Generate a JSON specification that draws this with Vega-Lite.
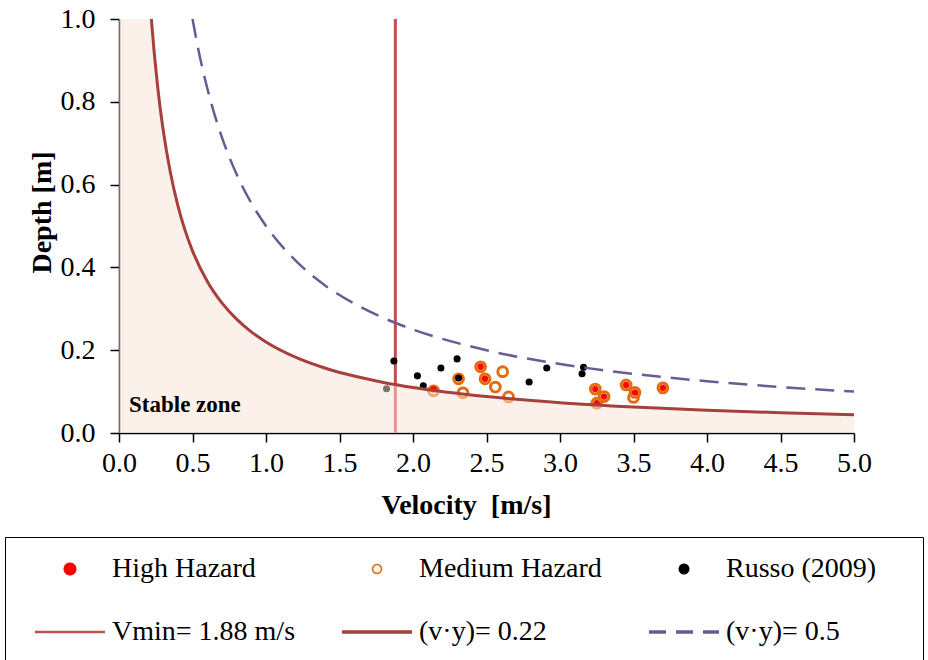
{
  "$schema": "https://vega.github.io/schema/vega-lite/v6.json",
  "width": 735,
  "height": 414,
  "autosize": {"type": "none"},
  "padding": {"left": 119, "top": 19, "right": 74, "bottom": 227},
  "background": "white",
  "config": {
    "view": {"stroke": null},
    "axis": {
      "labelFont": "Liberation Serif", "labelFontSize": 28, "labelColor": "black",
      "titleFont": "Liberation Serif", "titleFontSize": 28, "titleFontWeight": "bold", "titleColor": "black",
      "domainColor": "black", "domainWidth": 1.5, "tickColor": "black", "tickWidth": 1.5, "tickSize": 9,
      "grid": false, "labelFlush": false, "labelOverlap": false
    },
    "legend": {
      "labelFont": "Liberation Serif", "labelFontSize": 28, "labelColor": "black", "labelLimit": 400
    }
  },
  "datasets": {
    "russo": [
      {"v": 1.87, "y": 0.174, "series": "Russo (2009)"},
      {"v": 2.03, "y": 0.138, "series": "Russo (2009)"},
      {"v": 2.07, "y": 0.114, "series": "Russo (2009)"},
      {"v": 2.19, "y": 0.157, "series": "Russo (2009)"},
      {"v": 2.30, "y": 0.179, "series": "Russo (2009)"},
      {"v": 2.31, "y": 0.133, "series": "Russo (2009)"},
      {"v": 2.79, "y": 0.123, "series": "Russo (2009)"},
      {"v": 2.91, "y": 0.157, "series": "Russo (2009)"},
      {"v": 3.16, "y": 0.159, "series": "Russo (2009)"},
      {"v": 3.15, "y": 0.143, "series": "Russo (2009)"},
      {"v": 1.82, "y": 0.107, "series": "Russo (2009)"}
    ],
    "medium": [
      {"v": 2.14, "y": 0.102, "series": "Medium Hazard"},
      {"v": 2.31, "y": 0.131, "series": "Medium Hazard"},
      {"v": 2.34, "y": 0.097, "series": "Medium Hazard"},
      {"v": 2.46, "y": 0.160, "series": "Medium Hazard"},
      {"v": 2.49, "y": 0.131, "series": "Medium Hazard"},
      {"v": 2.56, "y": 0.111, "series": "Medium Hazard"},
      {"v": 2.61, "y": 0.148, "series": "Medium Hazard"},
      {"v": 2.65, "y": 0.087, "series": "Medium Hazard"},
      {"v": 3.24, "y": 0.106, "series": "Medium Hazard"},
      {"v": 3.30, "y": 0.088, "series": "Medium Hazard"},
      {"v": 3.25, "y": 0.072, "series": "Medium Hazard"},
      {"v": 3.45, "y": 0.116, "series": "Medium Hazard"},
      {"v": 3.51, "y": 0.098, "series": "Medium Hazard"},
      {"v": 3.50, "y": 0.086, "series": "Medium Hazard"},
      {"v": 3.70, "y": 0.109, "series": "Medium Hazard"}
    ],
    "high": [
      {"v": 2.14, "y": 0.105, "series": "High Hazard"},
      {"v": 2.46, "y": 0.160, "series": "High Hazard"},
      {"v": 2.49, "y": 0.131, "series": "High Hazard"},
      {"v": 3.24, "y": 0.106, "series": "High Hazard"},
      {"v": 3.30, "y": 0.088, "series": "High Hazard"},
      {"v": 3.25, "y": 0.072, "series": "High Hazard"},
      {"v": 3.45, "y": 0.116, "series": "High Hazard"},
      {"v": 3.51, "y": 0.098, "series": "High Hazard"},
      {"v": 3.70, "y": 0.109, "series": "High Hazard"}
    ],
    "vmin": [
      {"v": 1.88, "series": "Vmin= 1.88 m/s"}
    ],
    "curve22": [
      {"v": 0.22, "y": 1.0, "series": "(v·y)= 0.22"},
      {"v": 0.24, "y": 0.9167, "series": "(v·y)= 0.22"},
      {"v": 0.26, "y": 0.8462, "series": "(v·y)= 0.22"},
      {"v": 0.28, "y": 0.7857, "series": "(v·y)= 0.22"},
      {"v": 0.30, "y": 0.7333, "series": "(v·y)= 0.22"},
      {"v": 0.35, "y": 0.6286, "series": "(v·y)= 0.22"},
      {"v": 0.40, "y": 0.55, "series": "(v·y)= 0.22"},
      {"v": 0.45, "y": 0.4889, "series": "(v·y)= 0.22"},
      {"v": 0.50, "y": 0.44, "series": "(v·y)= 0.22"},
      {"v": 0.60, "y": 0.3667, "series": "(v·y)= 0.22"},
      {"v": 0.70, "y": 0.3143, "series": "(v·y)= 0.22"},
      {"v": 0.80, "y": 0.275, "series": "(v·y)= 0.22"},
      {"v": 0.90, "y": 0.2444, "series": "(v·y)= 0.22"},
      {"v": 1.00, "y": 0.22, "series": "(v·y)= 0.22"},
      {"v": 1.20, "y": 0.1833, "series": "(v·y)= 0.22"},
      {"v": 1.40, "y": 0.1571, "series": "(v·y)= 0.22"},
      {"v": 1.60, "y": 0.1375, "series": "(v·y)= 0.22"},
      {"v": 1.80, "y": 0.1222, "series": "(v·y)= 0.22"},
      {"v": 2.00, "y": 0.11, "series": "(v·y)= 0.22"},
      {"v": 2.50, "y": 0.088, "series": "(v·y)= 0.22"},
      {"v": 3.00, "y": 0.0733, "series": "(v·y)= 0.22"},
      {"v": 3.50, "y": 0.0629, "series": "(v·y)= 0.22"},
      {"v": 4.00, "y": 0.055, "series": "(v·y)= 0.22"},
      {"v": 4.50, "y": 0.0489, "series": "(v·y)= 0.22"},
      {"v": 5.00, "y": 0.044, "series": "(v·y)= 0.22"}
    ],
    "stable": [
      {"v": 0.0, "y": 1.0},
      {"v": 0.22, "y": 1.0},
      {"v": 0.24, "y": 0.9167},
      {"v": 0.26, "y": 0.8462},
      {"v": 0.28, "y": 0.7857},
      {"v": 0.30, "y": 0.7333},
      {"v": 0.35, "y": 0.6286},
      {"v": 0.40, "y": 0.55},
      {"v": 0.45, "y": 0.4889},
      {"v": 0.50, "y": 0.44},
      {"v": 0.60, "y": 0.3667},
      {"v": 0.70, "y": 0.3143},
      {"v": 0.80, "y": 0.275},
      {"v": 0.90, "y": 0.2444},
      {"v": 1.00, "y": 0.22},
      {"v": 1.20, "y": 0.1833},
      {"v": 1.40, "y": 0.1571},
      {"v": 1.60, "y": 0.1375},
      {"v": 1.80, "y": 0.1222},
      {"v": 2.00, "y": 0.11},
      {"v": 2.50, "y": 0.088},
      {"v": 3.00, "y": 0.0733},
      {"v": 3.50, "y": 0.0629},
      {"v": 4.00, "y": 0.055},
      {"v": 4.50, "y": 0.0489},
      {"v": 5.00, "y": 0.044}
    ],
    "curve50": [
      {"v": 0.50, "y": 1.0, "series": "(v·y)= 0.5"},
      {"v": 0.55, "y": 0.9091, "series": "(v·y)= 0.5"},
      {"v": 0.60, "y": 0.8333, "series": "(v·y)= 0.5"},
      {"v": 0.65, "y": 0.7692, "series": "(v·y)= 0.5"},
      {"v": 0.70, "y": 0.7143, "series": "(v·y)= 0.5"},
      {"v": 0.80, "y": 0.625, "series": "(v·y)= 0.5"},
      {"v": 0.90, "y": 0.5556, "series": "(v·y)= 0.5"},
      {"v": 1.00, "y": 0.5, "series": "(v·y)= 0.5"},
      {"v": 1.20, "y": 0.4167, "series": "(v·y)= 0.5"},
      {"v": 1.40, "y": 0.3571, "series": "(v·y)= 0.5"},
      {"v": 1.60, "y": 0.3125, "series": "(v·y)= 0.5"},
      {"v": 1.80, "y": 0.2778, "series": "(v·y)= 0.5"},
      {"v": 2.00, "y": 0.25, "series": "(v·y)= 0.5"},
      {"v": 2.50, "y": 0.2, "series": "(v·y)= 0.5"},
      {"v": 3.00, "y": 0.1667, "series": "(v·y)= 0.5"},
      {"v": 3.50, "y": 0.1429, "series": "(v·y)= 0.5"},
      {"v": 4.00, "y": 0.125, "series": "(v·y)= 0.5"},
      {"v": 4.50, "y": 0.1111, "series": "(v·y)= 0.5"},
      {"v": 5.00, "y": 0.1, "series": "(v·y)= 0.5"}
    ],
    "label": [
      {"v": 0.068, "y": 0.051, "text": "Stable zone"}
    ]
  },
  "encoding": {
    "x": {
      "field": "v", "type": "quantitative",
      "scale": {"domain": [0, 5], "nice": false, "zero": false},
      "axis": {
        "title": "Velocity \u00a0[m/s]",
        "values": [0, 0.5, 1, 1.5, 2, 2.5, 3, 3.5, 4, 4.5, 5],
        "format": ".1f", "labelPadding": 7,
        "titleX": 347, "titleY": 80, "titleAlign": "center", "titleBaseline": "alphabetic"
      }
    },
    "y": {
      "field": "y", "type": "quantitative",
      "scale": {"domain": [0, 1], "nice": false},
      "axis": {
        "title": "Depth [m]",
        "values": [0, 0.2, 0.4, 0.6, 0.8, 1.0],
        "format": ".1f", "labelPadding": 15,
        "titleX": -69, "titleY": 193, "titleAlign": "center", "titleBaseline": "alphabetic", "titleAngle": -90
      }
    }
  },
  "layer": [
    {
      "data": {"name": "vmin"},
      "mark": {"type": "rule", "strokeWidth": 3},
      "encoding": {
        "y": null,
        "color": {
          "field": "series", "type": "nominal",
          "scale": {
            "domain": ["High Hazard", "Medium Hazard", "Russo (2009)", "Vmin= 1.88 m/s", "(v·y)= 0.22", "(v·y)= 0.5"],
            "range": ["#ff0000", "#e46c0a", "#000000", "#c0504d", "#a5403c", "#6b5b95"]
          },
          "legend": {
            "title": " ", "titleOrient": "right", "titlePadding": 30, "titleFontSize": 10,
            "orient": "none", "legendX": -114, "legendY": 518,
            "direction": "horizontal", "columns": 3, "gridAlign": "all",
            "strokeColor": "black", "padding": 17,
            "symbolSize": 4900, "symbolStrokeWidth": 2.5, "clipHeight": 30,
            "labelOffset": 5, "columnPadding": 33, "rowPadding": 33,
            "labelFontSize": 28, "labelFont": "Liberation Serif", "labelBaseline": "middle",
            "encode": {
              "symbols": {
                "update": {
                  "x": {"value": 48},
                  "shape": {"signal": "indexof(['High Hazard','Medium Hazard','Russo (2009)'], datum.label) >= 0 ? 'circle' : 'stroke'"},
                  "size": {"signal": "datum.label === 'High Hazard' ? 90 : datum.label === 'Medium Hazard' ? 80 : datum.label === 'Russo (2009)' ? 55 : 4900"},
                  "fill": {"signal": "datum.label === 'High Hazard' ? '#ff0000' : datum.label === 'Russo (2009)' ? '#000000' : 'transparent'"},
                  "fillOpacity": {"signal": "datum.label === 'High Hazard' || datum.label === 'Russo (2009)' ? 1 : 0"},
                  "stroke": {"signal": "datum.label === 'Medium Hazard' ? '#e46c0a' : datum.label === 'Vmin= 1.88 m/s' ? '#c0504d' : datum.label === '(v·y)= 0.22' ? '#a5403c' : datum.label === '(v·y)= 0.5' ? '#6b5b95' : 'transparent'"},
                  "strokeWidth": {"signal": "datum.label === 'Medium Hazard' ? 1.6 : datum.label === 'Vmin= 1.88 m/s' ? 2.5 : 3.5"},
                  "strokeDash": {"signal": "datum.label === '(v·y)= 0.5' ? [17, 10] : [1, 0]"},
                  "opacity": {"value": 1}
                }
              },
              "labels": {
                "update": {
                  "x": {"value": 90}
                }
              }
            }
          }
        }
      }
    },
    {
      "data": {"name": "medium"},
      "mark": {"type": "point", "shape": "circle", "filled": false, "size": 95, "strokeWidth": 3, "opacity": 1},
      "encoding": {"color": {"field": "series", "type": "nominal"}}
    },
    {
      "data": {"name": "high"},
      "mark": {"type": "point", "shape": "circle", "filled": true, "size": 40, "opacity": 1},
      "encoding": {"color": {"field": "series", "type": "nominal"}}
    },
    {
      "data": {"name": "russo"},
      "mark": {"type": "point", "shape": "circle", "filled": true, "size": 50, "opacity": 1},
      "encoding": {"color": {"field": "series", "type": "nominal"}}
    },
    {
      "data": {"name": "stable"},
      "mark": {"type": "area", "color": "#fae3d5", "opacity": 0.5, "interpolate": "monotone"},
      "encoding": {}
    },
    {
      "data": {"name": "label"},
      "mark": {"type": "text", "align": "left", "baseline": "alphabetic", "font": "Liberation Serif", "fontSize": 23, "fontWeight": "bold", "color": "black"},
      "encoding": {"text": {"field": "text"}}
    },
    {
      "data": {"name": "curve22"},
      "mark": {"type": "line", "strokeWidth": 3, "interpolate": "monotone"},
      "encoding": {"color": {"field": "series", "type": "nominal"}}
    },
    {
      "data": {"name": "curve50"},
      "mark": {"type": "line", "strokeWidth": 2.5, "strokeDash": [19, 10], "interpolate": "monotone"},
      "encoding": {"color": {"field": "series", "type": "nominal"}}
    }
  ],
  "resolve": {"scale": {"color": "shared"}}
}
